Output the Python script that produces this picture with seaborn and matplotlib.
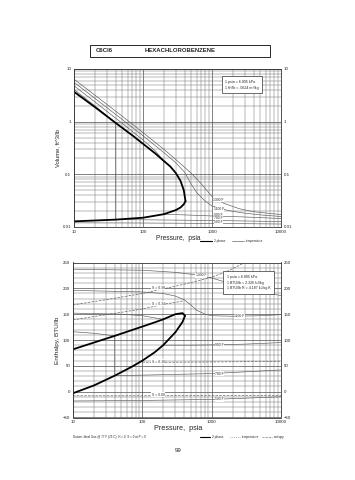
import numpy as np
import pandas as pd
import matplotlib
matplotlib.use("Agg")
import matplotlib.pyplot as plt
from matplotlib.ticker import FixedLocator, NullFormatter, MultipleLocator
import seaborn as sns

# ---------------- data: volume chart ----------------
sat_vap_P = [10, 20, 40, 70, 100, 150, 200, 250, 300, 350, 390, 413]
sat_vap_V = [3.7, 1.9, 0.95, 0.55, 0.38, 0.25, 0.18, 0.14, 0.105, 0.075, 0.05, 0.031]
sat_liq_P = [10, 40, 100, 200, 300, 350, 390, 413]
sat_liq_V = [0.0128, 0.0138, 0.0150, 0.0175, 0.021, 0.0235, 0.027, 0.031]

iso_V = {
    "1300 F": ([10, 20, 50, 100, 200, 300, 500, 700, 1000, 1500, 2500, 4000, 10000],
               [6.4, 3.2, 1.27, 0.62, 0.30, 0.19, 0.105, 0.066, 0.038, 0.028, 0.0222, 0.0195, 0.0172]),
    "1100 F": ([10, 20, 50, 100, 200, 300, 400, 500, 600, 800, 1000, 1500, 2000, 3000, 5000, 10000],
               [5.6, 2.78, 1.10, 0.54, 0.26, 0.165, 0.11, 0.065, 0.045, 0.031, 0.025, 0.0215, 0.0198, 0.0183, 0.017, 0.0158]),
    "900 F": ([10, 20, 50, 100, 150, 200, 200, 500, 1000, 3000, 10000],
              [4.8, 2.38, 0.93, 0.45, 0.28, 0.18, 0.0175, 0.0168, 0.0162, 0.0155, 0.0145]),
    "700 F": ([10, 20, 40, 40, 100, 1000, 10000],
              [4.1, 2.0, 0.95, 0.0138, 0.0137, 0.0133, 0.0127]),
    "500 F": ([10, 100, 1000, 10000],
              [0.0120, 0.0119, 0.0117, 0.0114]),
}
iso_V_label = {"1300 F": 0.033, "1100 F": 0.0215, "900 F": 0.0172, "700 F": 0.0148, "500 F": 0.0124}

# ---------------- data: enthalpy chart ----------------
sat_liq_H_P = [10, 20, 40, 70, 100, 150, 200, 300, 380, 413]
sat_liq_H = [-3, 12, 31, 48, 60, 76, 90, 115, 135, 147]
sat_vap_H_P = [10, 20, 40, 70, 100, 150, 200, 300, 380, 413]
sat_vap_H = [82, 95, 108, 119, 126, 134, 140, 150, 152, 147]

iso_H = {
    "1300 F": ([10, 100, 300, 600, 1000, 2000, 4000, 10000],
               [237, 235, 231, 226, 220, 208, 196, 186]),
    "1100 F": ([10, 100, 200, 300, 400, 500, 600, 800, 1000, 2000, 5000, 10000],
               [196, 193, 190, 185, 178, 168, 158, 150, 147, 146, 147, 149]),
    "900 F": ([10, 50, 100, 200, 200, 500, 1000, 3000, 10000],
              [152, 150, 147, 140, 90, 90, 90.5, 92, 95]),
    "700 F": ([10, 20, 40, 40, 100, 1000, 10000],
              [116, 113, 108, 31, 32, 35, 42]),
    "500 F": ([10, 100, 1000, 10000],
              [-18, -17, -15, -10]),
}
iso_H_label = {"1300 F": (700, 225), "1100 F": (2500, 146), "900 F": (1300, 90),
               "700 F": (1300, 35), "500 F": (1300, -15)}

ent_H = {
    "S = 0.38": ([10, 30, 100, 200, 400, 700, 1000, 1500, 2000, 3000],
                 [168, 178, 190, 199, 208, 216, 222, 230, 238, 250]),
    "S = 0.34": ([10, 30, 100, 200, 300, 400],
                 [139, 149, 160, 169, 173, 176]),
    "S = 0.18": ([100, 300, 1000, 3000, 10000],
                 [57, 57, 57.5, 58, 59]),
    "S = 0.08": ([10, 100, 1000, 10000],
                 [-8, -8, -7.5, -7]),
}
ent_label = {"S = 0.38": (170, 201), "S = 0.34": (170, 170), "S = 0.18": (170, 58), "S = 0.08": (170, -6)}

x_ticks = [10, 100, 1000, 10000]
x_ticklabels = ["10", "100", "1000", "10000"]
v_ticks = [10, 1, 0.1, 0.01]
v_ticklabels = ["10", "1", "0.1", "0.01"]
h_ticks = [250, 200, 150, 100, 50, 0, -50]

# ---------------- figure ----------------
sns.set_style("white")
plt.rcParams['font.family'] = ['Liberation Sans', 'DejaVu Sans']

fig = plt.figure(figsize=(3.55, 4.8), dpi=100)
ax1 = fig.add_axes([74/355, 1-227/480, 207/355, 158/480])
ax2 = fig.add_axes([73/355, 1-417.5/480, 208/355, 155/480])

thin = dict(color="0.35", lw=0.45)
thick = dict(color="black", lw=1.3)

def setup_grid(ax):
    ax.set_xscale("log")
    ax.set_xlim(10, 10000)
    ax.xaxis.set_major_locator(FixedLocator(x_ticks))
    ax.set_xticklabels(x_ticklabels)
    ax.xaxis.set_minor_locator(FixedLocator([m * d for d in [10, 100, 1000] for m in range(2, 10)]))
    ax.xaxis.set_minor_formatter(NullFormatter())
    ax.grid(True, which="major", color="0.3", lw=0.5)
    ax.grid(True, which="minor", color="0.45", lw=0.35)
    for s in ax.spines.values():
        s.set_color("0.2")
        s.set_linewidth(0.6)
    ax.tick_params(axis="both", which="both", length=0, labelsize=3.2, pad=2,
                   labelright=True, right=False)
    ax.set_xlabel("")
    ax.set_ylabel("")

# --- top chart ---
setup_grid(ax1)
ax1.set_yscale("log")
ax1.set_ylim(0.01, 10)
ax1.yaxis.set_major_locator(FixedLocator(v_ticks))
ax1.set_yticklabels(v_ticklabels)
ax1.yaxis.set_minor_locator(FixedLocator([m * d for d in [0.01, 0.1, 1] for m in range(2, 10)]))
ax1.yaxis.set_minor_formatter(NullFormatter())

for name, (p, v) in iso_V.items():
    df = pd.DataFrame({"P": p, "V": v})
    sns.lineplot(data=df, x="P", y="V", ax=ax1, sort=False, estimator=None, **thin)
    ax1.text(1250, iso_V_label[name], name, fontsize=2.4, ha="center", va="center",
             bbox=dict(facecolor="white", edgecolor="none", pad=0.3))
sns.lineplot(data=pd.DataFrame({"P": sat_vap_P, "V": sat_vap_V}), x="P", y="V", ax=ax1,
             sort=False, estimator=None, **thick)
sns.lineplot(data=pd.DataFrame({"P": sat_liq_P, "V": sat_liq_V}), x="P", y="V", ax=ax1,
             sort=False, estimator=None, **thick)
ax1.set_xlabel("")
ax1.set_ylabel("")

ax1.text(0.73, 0.9, "1 psia = 6.895 kPa\n1 ft\u00b3/lb = .0624 m\u00b3/kg", transform=ax1.transAxes,
         fontsize=2.6, va="center", ha="left", linespacing=1.6,
         bbox=dict(facecolor="white", edgecolor="0.2", lw=0.5, pad=2.5))

# --- bottom chart ---
setup_grid(ax2)
ax2.set_ylim(-50, 250)
ax2.yaxis.set_major_locator(FixedLocator(h_ticks))
ax2.yaxis.set_minor_locator(MultipleLocator(10))

for name, (p, h) in iso_H.items():
    df = pd.DataFrame({"P": p, "H": h})
    sns.lineplot(data=df, x="P", y="H", ax=ax2, sort=False, estimator=None, **thin)
    ax2.text(*iso_H_label[name], name, fontsize=2.4, ha="center", va="center",
             bbox=dict(facecolor="white", edgecolor="none", pad=0.3))
for name, (p, h) in ent_H.items():
    df = pd.DataFrame({"P": p, "H": h})
    sns.lineplot(data=df, x="P", y="H", ax=ax2, sort=False, estimator=None,
                 color="0.35", lw=0.45, linestyle=(0, (4, 2)))
    ax2.text(*ent_label[name], name, fontsize=2.4, ha="center", va="center",
             bbox=dict(facecolor="white", edgecolor="none", pad=0.3))
sns.lineplot(data=pd.DataFrame({"P": sat_vap_H_P, "H": sat_vap_H}), x="P", y="H", ax=ax2,
             sort=False, estimator=None, **thick)
sns.lineplot(data=pd.DataFrame({"P": sat_liq_H_P, "H": sat_liq_H}), x="P", y="H", ax=ax2,
             sort=False, estimator=None, **thick)
ax2.set_xlabel("")
ax2.set_ylabel("")

ax2.text(0.74, 0.87, "1 psia = 6.895 kPa\n1 BTU/lb = 2.326 kJ/kg\n1 BTU/lb R = 4.187 kJ/kg K",
         transform=ax2.transAxes, fontsize=2.6, va="center", ha="left", linespacing=1.6,
         bbox=dict(facecolor="white", edgecolor="0.2", lw=0.5, pad=2.5))

# --- axis titles ---
fig.text(58/355, 1-148/480, "Volume, ft^3/lb", rotation=90, fontsize=4.2, ha="center", va="center")
fig.text(57/355, 1-340/480, "Enthalpy, BTU/lb", rotation=90, fontsize=4.6, ha="center", va="center")
fig.text(178/355, 1-238/480, "Pressure,  psia", fontsize=4.8, ha="center", va="center")
fig.text(178/355, 1-428/480, "Pressure,  psia", fontsize=5.2, ha="center", va="center")

# --- legends (drawn as figure lines) ---
def leg_line(x0, x1, y, **kw):
    fig.add_artist(plt.Line2D([x0/355, x1/355], [1-y/480, 1-y/480], **kw))

leg_line(200, 212, 241, color="black", lw=0.8)
fig.text(214/355, 1-241/480, "2 phase", fontsize=2.3, va="center")
leg_line(232, 244, 241, color="0.4", lw=0.5)
fig.text(246/355, 1-241/480, "temperature", fontsize=2.3, va="center")

leg_line(200, 210, 437, color="black", lw=0.8)
fig.text(212/355, 1-437/480, "2 phase", fontsize=2.3, va="center")
leg_line(230, 240, 437, color="0.45", lw=0.5, linestyle=":")
fig.text(242/355, 1-437/480, "temperature", fontsize=2.3, va="center")
leg_line(262, 272, 437, color="0.45", lw=0.5, linestyle=(0, (3, 1.5)))
fig.text(274/355, 1-437/480, "entropy", fontsize=2.3, va="center")

fig.text(73/355, 1-437/480, "Datum: Ideal Gas @ 77 F (25 C), H = 0, S = 0 at P = 0",
         fontsize=2.2, va="center")

# --- title box ---
fig.add_artist(plt.Rectangle((90/355, 1-56.5/480), 180/355, 11.5/480, transform=fig.transFigure,
                             facecolor="white", edgecolor="0.15", lw=0.7))
fig.text(96/355, 1-51/480, "C6Cl6", fontsize=4.3, va="center", fontweight="bold")
fig.text(145/355, 1-51/480, "HEXACHLOROBENZENE", fontsize=4.3, va="center", fontweight="bold")

fig.text(178/355, 1-451/480, "99", fontsize=4.5, ha="center", va="center")

fig.savefig("out.png", dpi=100)
